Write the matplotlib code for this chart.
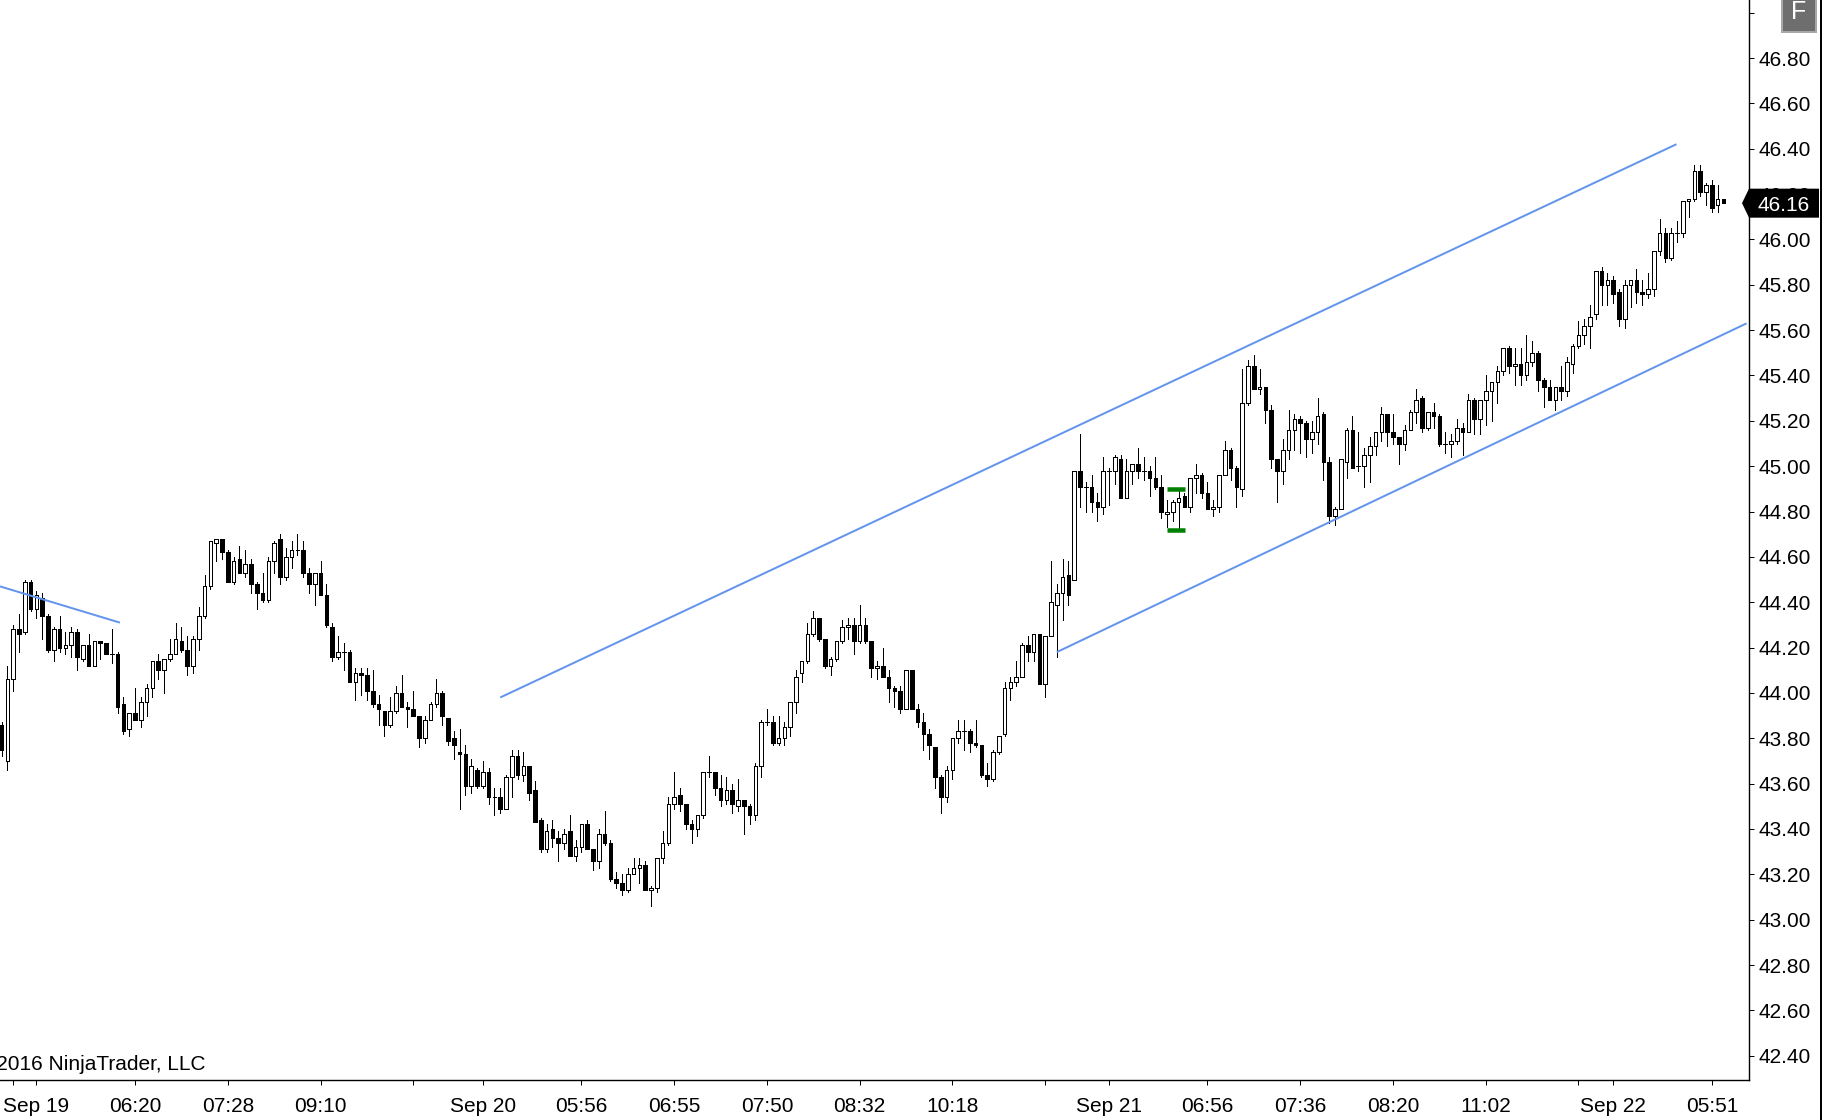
import matplotlib
matplotlib.use("Agg")
import matplotlib.pyplot as plt
from matplotlib.patches import Polygon, Rectangle
from matplotlib.lines import Line2D
import numpy as np

opens = [
    43.86, 43.70, 44.06, 44.28, 44.27, 44.49, 44.37, 44.42, 44.34, 44.19,
    44.28, 44.20, 44.21, 44.27, 44.15, 44.21, 44.12, 44.23, 44.22, 44.17,
    44.17, 43.95, 43.84, 43.91, 43.88, 43.96, 44.02, 44.14, 44.10, 44.15,
    44.17, 44.23, 44.19, 44.12, 44.24, 44.34, 44.47, 44.66, 44.68, 44.62,
    44.49, 44.59, 44.53, 44.57, 44.48, 44.44, 44.41, 44.58, 44.68, 44.51,
    44.60, 44.63, 44.63, 44.53, 44.48, 44.53, 44.43, 44.29, 44.16, 44.18,
    44.18, 44.05, 44.09, 44.08, 44.01, 43.95, 43.92, 43.86, 43.92, 44.00,
    43.94, 43.93, 43.90, 43.80, 43.88, 43.95, 44.00, 43.89, 43.80, 43.74,
    43.73, 43.59, 43.66, 43.59, 43.65, 43.54, 43.54, 43.49, 43.63, 43.72,
    43.64, 43.68, 43.57, 43.44, 43.31, 43.40, 43.36, 43.34, 43.39, 43.28,
    43.32, 43.42, 43.31, 43.26, 43.38, 43.34, 43.18, 43.16, 43.13, 43.20,
    43.23, 43.24, 43.13, 43.14, 43.27, 43.34, 43.51, 43.55, 43.51, 43.42,
    43.40, 43.46, 43.65, 43.65, 43.58, 43.53, 43.57, 43.50, 43.53, 43.50,
    43.46, 43.68, 43.87, 43.87, 43.78, 43.80, 43.85, 43.96, 44.09, 44.14,
    44.26, 44.33, 44.24, 44.12, 44.15, 44.23, 44.29, 44.30, 44.23, 44.30,
    44.23, 44.11, 44.12, 44.07, 44.02, 44.01, 43.93, 44.10, 43.93, 43.87,
    43.82, 43.76, 43.63, 43.54, 43.66, 43.80, 43.83, 43.83, 43.78, 43.77,
    43.64, 43.62, 43.74, 43.82, 44.02, 44.05, 44.07, 44.21, 44.18, 44.26,
    44.04, 44.25, 44.39, 44.44, 44.52, 44.50, 44.98, 44.91, 44.91, 44.84,
    44.82, 44.98, 44.98, 45.03, 44.86, 44.98, 45.01, 44.98, 44.98, 44.95,
    44.91, 44.79, 44.80, 44.84, 44.87, 44.82, 44.95, 44.96, 44.88, 44.81,
    44.82, 44.96, 45.07, 44.99, 44.90, 45.28, 45.44, 45.34, 45.35, 45.25,
    45.03, 44.98, 45.07, 45.16, 45.21, 45.19, 45.12, 45.15, 45.23, 45.02,
    44.78, 44.81, 45.02, 45.16, 45.00, 45.00, 45.05, 45.09, 45.15, 45.23,
    45.15, 45.13, 45.10, 45.16, 45.24, 45.30, 45.17, 45.24, 45.22, 45.10,
    45.10, 45.11, 45.17, 45.15, 45.29, 45.21, 45.29, 45.33, 45.37, 45.42,
    45.52, 45.44, 45.45, 45.40, 45.46, 45.50, 45.38, 45.35, 45.29, 45.35,
    45.33, 45.45, 45.53, 45.58, 45.62, 45.67, 45.86, 45.80, 45.82, 45.77,
    45.65, 45.80, 45.82, 45.77, 45.76, 45.78, 45.95, 46.03, 45.92, 46.03,
    46.03, 46.17, 46.18, 46.30, 46.21, 46.24, 46.15, 46.18,
]
highs = [
    43.87, 44.12, 44.30, 44.35, 44.50, 44.50, 44.45, 44.44, 44.35, 44.29,
    44.34, 44.27, 44.29, 44.28, 44.21, 44.26, 44.23, 44.23, 44.22, 44.28,
    44.18, 43.98, 43.91, 44.02, 43.98, 44.04, 44.14, 44.17, 44.15, 44.24,
    44.31, 44.29, 44.25, 44.25, 44.38, 44.52, 44.67, 44.68, 44.68, 44.63,
    44.60, 44.65, 44.63, 44.59, 44.49, 44.53, 44.60, 44.67, 44.70, 44.64,
    44.67, 44.70, 44.67, 44.55, 44.53, 44.58, 44.48, 44.31, 44.25, 44.22,
    44.19, 44.11, 44.11, 44.11, 44.10, 43.99, 43.92, 43.98, 44.03, 44.08,
    43.96, 44.01, 43.90, 43.90, 43.96, 44.06, 44.01, 43.89, 43.83, 43.84,
    43.77, 43.71, 43.67, 43.70, 43.67, 43.58, 43.58, 43.64, 43.75, 43.75,
    43.74, 43.68, 43.61, 43.45, 43.42, 43.44, 43.39, 43.40, 43.46, 43.35,
    43.42, 43.44, 43.31, 43.40, 43.48, 43.35, 43.21, 43.20, 43.23, 43.27,
    43.27, 43.26, 43.15, 43.27, 43.39, 43.54, 43.65, 43.58, 43.51, 43.44,
    43.46, 43.65, 43.72, 43.65, 43.64, 43.63, 43.60, 43.62, 43.53, 43.51,
    43.69, 43.88, 43.93, 43.90, 43.90, 43.87, 43.96, 44.10, 44.14, 44.31,
    44.36, 44.33, 44.24, 44.16, 44.23, 44.32, 44.33, 44.33, 44.39, 44.33,
    44.23, 44.14, 44.20, 44.10, 44.03, 44.03, 44.10, 44.10, 43.95, 43.91,
    43.84, 43.76, 43.64, 43.68, 43.80, 43.88, 43.88, 43.84, 43.88, 43.77,
    43.69, 43.75, 43.81, 44.05, 44.07, 44.14, 44.22, 44.25, 44.26, 44.26,
    44.25, 44.58, 44.48, 44.59, 44.58, 44.98, 45.14, 44.93, 44.96, 44.88,
    45.04, 44.99, 45.05, 45.05, 45.03, 45.01, 45.08, 45.04, 45.00, 45.04,
    44.96, 44.85, 44.85, 44.89, 44.88, 44.95, 45.01, 44.97, 44.93, 44.85,
    44.96, 45.11, 45.08, 45.00, 45.43, 45.47, 45.49, 45.43, 45.35, 45.27,
    45.03, 45.12, 45.25, 45.23, 45.22, 45.20, 45.20, 45.30, 45.24, 45.04,
    44.82, 45.03, 45.17, 45.22, 45.15, 45.08, 45.13, 45.15, 45.26, 45.23,
    45.23, 45.13, 45.18, 45.25, 45.34, 45.31, 45.24, 45.28, 45.23, 45.15,
    45.14, 45.21, 45.19, 45.32, 45.30, 45.29, 45.40, 45.37, 45.44, 45.52,
    45.53, 45.52, 45.52, 45.58, 45.55, 45.51, 45.39, 45.38, 45.35, 45.44,
    45.48, 45.54, 45.64, 45.65, 45.71, 45.86, 45.88, 45.85, 45.84, 45.78,
    45.82, 45.82, 45.87, 45.82, 45.85, 45.95, 46.09, 46.05, 46.05, 46.08,
    46.17, 46.18, 46.33, 46.33, 46.25, 46.26, 46.24, 46.18,
]
lows = [
    43.72, 43.66, 44.01, 44.18, 44.26, 44.36, 44.33, 44.24, 44.18, 44.14,
    44.18, 44.17, 44.16, 44.10, 44.14, 44.12, 44.12, 44.15, 44.17, 44.13,
    43.91, 43.82, 43.81, 43.88, 43.85, 43.90, 43.98, 44.06, 44.00, 44.14,
    44.17, 44.18, 44.08, 44.09, 44.19, 44.33, 44.46, 44.58, 44.59, 44.49,
    44.48, 44.53, 44.51, 44.44, 44.37, 44.40, 44.40, 44.53, 44.48, 44.50,
    44.55, 44.61, 44.51, 44.44, 44.39, 44.43, 44.29, 44.14, 44.15, 44.10,
    44.05, 43.97, 43.99, 43.97, 43.94, 43.86, 43.81, 43.85, 43.91, 43.94,
    43.85, 43.90, 43.76, 43.78, 43.88, 43.94, 43.86, 43.77, 43.71, 43.49,
    43.55, 43.56, 43.58, 43.58, 43.51, 43.46, 43.47, 43.49, 43.54, 43.62,
    43.61, 43.53, 43.43, 43.30, 43.30, 43.32, 43.26, 43.31, 43.28, 43.26,
    43.30, 43.31, 43.22, 43.23, 43.33, 43.17, 43.14, 43.11, 43.12, 43.20,
    43.16, 43.13, 43.06, 43.12, 43.25, 43.33, 43.49, 43.48, 43.40, 43.34,
    43.37, 43.45, 43.63, 43.55, 43.50, 43.51, 43.47, 43.48, 43.38, 43.42,
    43.44, 43.63, 43.86, 43.77, 43.77, 43.77, 43.81, 43.91, 44.05, 44.13,
    44.25, 44.23, 44.11, 44.08, 44.14, 44.22, 44.24, 44.17, 44.22, 44.22,
    44.07, 44.06, 44.07, 43.96, 43.94, 43.91, 43.93, 43.93, 43.85, 43.75,
    43.71, 43.58, 43.47, 43.52, 43.62, 43.78, 43.75, 43.74, 43.76, 43.63,
    43.59, 43.61, 43.73, 43.81, 43.97, 44.03, 44.07, 44.14, 44.14, 44.04,
    43.98, 44.25, 44.16, 44.32, 44.39, 44.50, 44.82, 44.80, 44.80, 44.76,
    44.79, 44.83, 44.92, 44.86, 44.86, 44.92, 44.95, 44.94, 44.87, 44.90,
    44.77, 44.73, 44.76, 44.72, 44.82, 44.80, 44.88, 44.86, 44.81, 44.78,
    44.80, 44.96, 44.94, 44.82, 44.87, 45.27, 45.34, 45.32, 45.19, 44.99,
    44.84, 44.92, 45.03, 45.07, 45.06, 45.04, 45.06, 45.10, 44.94, 44.75,
    44.74, 44.81, 44.95, 44.99, 44.98, 44.91, 44.93, 45.05, 45.11, 45.09,
    45.10, 45.01, 45.07, 45.16, 45.19, 45.15, 45.16, 45.17, 45.09, 45.06,
    45.04, 45.10, 45.05, 45.15, 45.14, 45.14, 45.18, 45.20, 45.28, 45.40,
    45.41, 45.36, 45.36, 45.38, 45.44, 45.33, 45.26, 45.29, 45.25, 45.29,
    45.31, 45.41, 45.52, 45.54, 45.52, 45.65, 45.71, 45.71, 45.72, 45.62,
    45.61, 45.70, 45.72, 45.71, 45.74, 45.75, 45.93, 45.90, 45.91, 45.99,
    46.01, 46.10, 46.17, 46.19, 46.15, 46.12, 46.12, 46.16,
]
closes = [
    43.75, 44.06, 44.28, 44.26, 44.49, 44.37, 44.43, 44.34, 44.19, 44.28,
    44.20, 44.21, 44.27, 44.16, 44.21, 44.12, 44.23, 44.22, 44.17, 44.17,
    43.94, 43.83, 43.91, 43.88, 43.96, 44.02, 44.14, 44.10, 44.15, 44.17,
    44.24, 44.19, 44.12, 44.24, 44.34, 44.47, 44.67, 44.68, 44.62, 44.49,
    44.58, 44.53, 44.57, 44.48, 44.44, 44.41, 44.58, 44.66, 44.51, 44.60,
    44.63, 44.63, 44.53, 44.48, 44.53, 44.43, 44.30, 44.16, 44.18, 44.18,
    44.05, 44.09, 44.08, 44.01, 43.95, 43.93, 43.86, 43.92, 44.00, 43.94,
    43.93, 43.90, 43.80, 43.88, 43.95, 44.00, 43.90, 43.79, 43.77, 43.73,
    43.59, 43.68, 43.59, 43.65, 43.54, 43.54, 43.49, 43.63, 43.72, 43.64,
    43.68, 43.56, 43.43, 43.31, 43.39, 43.36, 43.34, 43.38, 43.28, 43.32,
    43.42, 43.31, 43.26, 43.38, 43.34, 43.18, 43.16, 43.13, 43.20, 43.23,
    43.24, 43.13, 43.14, 43.27, 43.34, 43.51, 43.54, 43.51, 43.42, 43.40,
    43.46, 43.65, 43.65, 43.58, 43.53, 43.57, 43.51, 43.53, 43.50, 43.46,
    43.68, 43.87, 43.87, 43.78, 43.80, 43.85, 43.96, 44.07, 44.14, 44.26,
    44.33, 44.24, 44.12, 44.15, 44.23, 44.29, 44.30, 44.23, 44.30, 44.23,
    44.11, 44.12, 44.07, 44.02, 44.01, 43.93, 44.10, 43.93, 43.87, 43.82,
    43.77, 43.63, 43.54, 43.66, 43.80, 43.83, 43.83, 43.78, 43.77, 43.64,
    43.62, 43.74, 43.81, 44.02, 44.05, 44.07, 44.21, 44.18, 44.26, 44.04,
    44.25, 44.40, 44.44, 44.51, 44.43, 44.98, 44.91, 44.91, 44.84, 44.82,
    44.98, 44.98, 45.04, 44.86, 44.98, 45.01, 44.98, 44.98, 44.95, 44.91,
    44.80, 44.80, 44.84, 44.86, 44.82, 44.95, 44.96, 44.88, 44.81, 44.82,
    44.96, 45.07, 44.99, 44.91, 45.28, 45.44, 45.34, 45.35, 45.25, 45.03,
    44.98, 45.07, 45.16, 45.21, 45.19, 45.12, 45.15, 45.22, 45.02, 44.78,
    44.81, 45.03, 45.16, 44.99, 45.00, 45.05, 45.09, 45.15, 45.23, 45.15,
    45.13, 45.10, 45.16, 45.24, 45.29, 45.17, 45.24, 45.22, 45.10, 45.10,
    45.11, 45.17, 45.15, 45.29, 45.21, 45.29, 45.33, 45.37, 45.42, 45.52,
    45.44, 45.45, 45.40, 45.46, 45.50, 45.38, 45.35, 45.29, 45.35, 45.33,
    45.46, 45.53, 45.58, 45.62, 45.66, 45.86, 45.80, 45.82, 45.76, 45.65,
    45.80, 45.82, 45.77, 45.76, 45.78, 45.95, 46.03, 45.92, 46.03, 46.03,
    46.17, 46.18, 46.30, 46.21, 46.24, 46.14, 46.18, 46.16,
]

xtick_bars = [2, 6, 23, 39, 55, 71, 83, 100, 116, 132, 148,
              164, 180, 191, 208, 224, 240, 256, 272, 278, 295]
xtick_labels = ["", "Sep 19", "06:20", "07:28", "09:10", "", "Sep 20", "05:56", "06:55", "07:50", "08:32",
                "10:18", "", "Sep 21", "06:56", "07:36", "08:20", "11:02", "", "Sep 22", "05:51"]
ytick_prices = [42.40, 42.60, 42.80, 43.00, 43.20, 43.40, 43.60, 43.80, 44.00, 44.20, 44.40,
                44.60, 44.80, 45.00, 45.20, 45.40, 45.60, 45.80, 46.00, 46.20, 46.40, 46.60, 46.80, 47.00]

# trend lines: (bar, price) end points
upper_x, upper_y = [86.0, 288.9], [43.98, 46.42]
lower_x, lower_y = [182.0, 301.0], [44.18, 45.63]
left_x, left_y = [-0.3, 20.4], [44.47, 44.31]
# green bracket on the low bar
marker_x = [201.0, 204.1]
marker_prices = [44.90, 44.72]
last_price = 46.16

W, H = 1825, 1120
PX = 72 / 100  # one pixel in points at dpi 100

plt.rcParams["font.family"] = ["Liberation Sans", "DejaVu Sans"]
fig = plt.figure(figsize=(W / 100, H / 100), dpi=100)
ax = fig.add_axes([0, (H - 1080) / H, 1748.7 / W, 1080 / H])
ax.set_xlim(-0.293, 301.36)
ax.set_ylim(42.293, 47.056)

bars = np.arange(len(closes))
o, c = np.array(opens), np.array(closes)
ax.vlines(bars, lows, highs, color="black", lw=1.0 * PX, zorder=2, antialiased=False)
faces = ["black" if c[i] < o[i] else "white" for i in bars]
ax.bar(bars, np.abs(c - o), bottom=np.minimum(o, c), width=0.62, color=faces,
       edgecolor="black", lw=1.0 * PX, zorder=3, antialiased=False)

blue = "#6495ED"
for xs, ys in [(upper_x, upper_y), (lower_x, lower_y), (left_x, left_y)]:
    ax.plot(xs, ys, color=blue, lw=2.0 * PX, zorder=4, solid_capstyle="butt")
for p in marker_prices:
    ax.plot(marker_x, [p, p], color="#008000", lw=4.5 * PX, zorder=4, solid_capstyle="butt")

ax.spines["top"].set_visible(False)
ax.spines["left"].set_visible(False)
ax.spines["right"].set_linewidth(1.4 * PX)
ax.spines["bottom"].set_linewidth(1.4 * PX)

ax.set_xticks(xtick_bars)
ax.set_xticklabels(xtick_labels, fontsize=15)
ax.tick_params(axis="x", length=5 * PX, width=1 * PX, pad=8.5, colors="black")
ax.yaxis.tick_right()
ax.set_yticks(ytick_prices)
ax.set_yticklabels(["" if p > 46.9 else f"{p:.2f}" for p in ytick_prices], fontsize=15)
ax.tick_params(axis="y", length=5 * PX, width=1 * PX, pad=3.5, colors="black")

fig.text(205.5 / W, 1 - 1064 / H, "\u00a9 2016 NinjaTrader, LLC", fontsize=15, ha="right", va="center")

# last price flag on the axis
yc = ax.transData.transform((0, last_price))[1]
flag = [(1742, yc), (1749, yc + 14.5), (1819, yc + 14.5), (1819, yc - 14.5), (1749, yc - 14.5)]
fig.add_artist(Polygon(flag, closed=True, transform=None, facecolor="black", edgecolor="none", zorder=10))
fig.text(1757 / W, yc / H, f"{last_price:.2f}", color="white", fontsize=15, ha="left", va="center_baseline", zorder=11)

# F button, top right
fig.add_artist(Rectangle((1782 / W, 1 - 32 / H), 34 / W, 33 / H, transform=fig.transFigure,
                         facecolor="#6e6e6e", edgecolor="#a8a8a8", lw=2 * PX, zorder=10))
fig.text(1799 / W, 1 - 12 / H, "F", color="white", fontsize=18, ha="center", va="center", zorder=11)

# window border on the far right
fig.add_artist(Line2D([1820.5 / W, 1820.5 / W], [0, 1], color="black", lw=2 * PX))

fig.savefig("out.png", dpi=100)
